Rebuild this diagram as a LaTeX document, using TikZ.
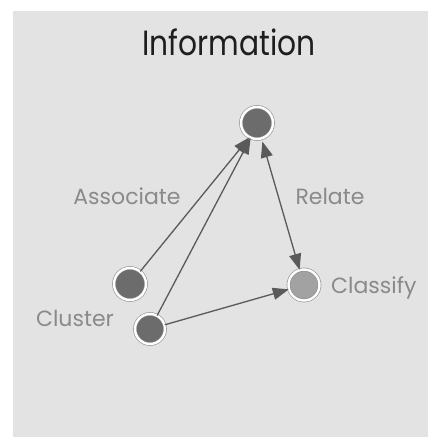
\documentclass[tikz,border=0pt]{standalone}
\usepackage{fontspec}
\setmainfont{Poppins}
\usetikzlibrary{arrows.meta}
\definecolor{bggray}{HTML}{E3E3E3}
\definecolor{nodedark}{HTML}{6C6C6C}
\definecolor{nodelight}{HTML}{A2A2A2}
\definecolor{ringgray}{HTML}{8E8E8E}
\definecolor{arrowgray}{HTML}{5A5A5A}
\definecolor{labelgray}{HTML}{8A8A8A}
\definecolor{titlegray}{HTML}{1E1E1E}
\tikzset{
  ringnode/.style={circle, inner sep=0pt, minimum size=#1, fill=nodedark,
    draw=ringgray, line width=0.6pt, double=white, double distance=2.4pt},
  ringnode/.default=32pt,
  tip/.tip={Triangle[length=16pt,width=12pt]},
  conn/.style={draw=arrowgray, line width=1.3pt, -tip},
  lbl/.style={text=labelgray, font=\fontsize{22}{25}\selectfont, inner sep=0pt},
}
\begin{document}
\begin{tikzpicture}[x=1pt,y=1pt]
\useasboundingbox (0,0) rectangle (428,-437);
\fill[white] (0,0) rectangle (428,-437);
\fill[bggray] (13,-11) rectangle (428,-437);
\node[text=titlegray, font=\fontsize{35}{40}\selectfont, inner sep=0pt, xscale=0.85] (title) at (229,-42) {Information};
\node[ringnode] (top) at (257,-123) {};
\node[ringnode] (assoc) at (130,-284) {};
\node[ringnode=30pt] (cluster) at (150,-329) {};
\node[ringnode=31pt, fill=nodelight] (classify) at (304,-285) {};
\node[lbl] (lassoc) at (127,-196) {Associate};
\node[lbl] (lrelate) at (330,-196) {Relate};
\node[lbl, anchor=west] (lclassify) at (331,-288) {Classify};
\node[lbl] (lcluster) at (75,-318) {Cluster};
\draw[conn] (assoc) -- (top.242);
\draw[conn] (cluster) -- (top.247);
\draw[conn, tip-tip, shorten <=3pt] (top) -- (classify);
\draw[conn] (cluster) -- (classify);
\end{tikzpicture}
\end{document}
